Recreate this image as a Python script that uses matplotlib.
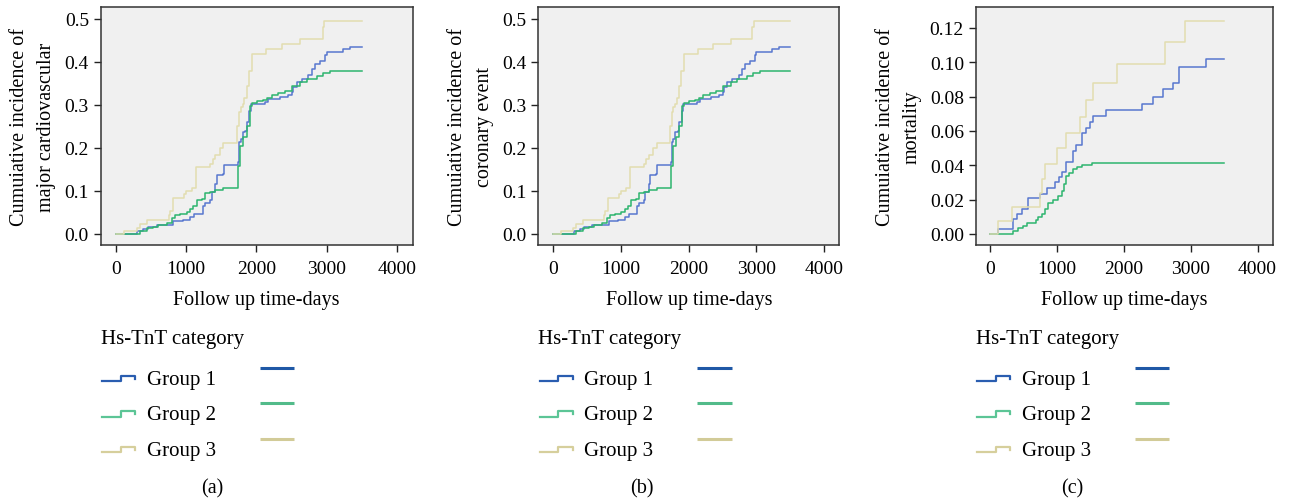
import matplotlib
matplotlib.use("Agg")
import matplotlib.pyplot as plt
from matplotlib.lines import Line2D
from matplotlib.legend_handler import HandlerBase
import numpy as np

plt.rcParams['font.family'] = ['Liberation Serif', 'DejaVu Serif']
plt.rcParams['font.size'] = 14

# --- data (days, cumulative incidence) ---
# panel (a) major cardiovascular event
a_g1_t = [0, 308, 393, 464, 583, 820, 962, 1057, 1118, 1246, 1270, 1341, 1365, 1412, 1436, 1521, 1540,
          1744, 1758, 1777, 1806, 1843, 1862, 1900, 1919, 2123, 2170, 2336, 2455, 2502, 2526, 2573,
          2645, 2739, 2787, 2834, 2905, 2976, 3000, 3237, 3332, 3498]
a_g1_y = [0, 0.006, 0.012, 0.016, 0.022, 0.030, 0.033, 0.039, 0.047, 0.064, 0.072, 0.078, 0.098, 0.116,
          0.136, 0.140, 0.160, 0.167, 0.213, 0.221, 0.238, 0.240, 0.260, 0.287, 0.302, 0.306, 0.314,
          0.318, 0.323, 0.330, 0.341, 0.353, 0.360, 0.370, 0.384, 0.395, 0.403, 0.416, 0.424, 0.430,
          0.434, 0.434]
a_g2_t = [0, 346, 440, 535, 607, 725, 796, 844, 915, 1009, 1057, 1104, 1152, 1223, 1270, 1341, 1412,
          1530, 1744, 1768, 1815, 1862, 1910, 1934, 2005, 2100, 2147, 2218, 2313, 2408, 2502, 2621,
          2716, 2858, 2953, 3047, 3190, 3498]
a_g2_y = [0, 0.006, 0.013, 0.017, 0.021, 0.026, 0.036, 0.043, 0.047, 0.050, 0.057, 0.064, 0.079, 0.081,
          0.095, 0.098, 0.102, 0.106, 0.159, 0.205, 0.225, 0.252, 0.298, 0.304, 0.310, 0.312, 0.316,
          0.322, 0.328, 0.333, 0.343, 0.353, 0.360, 0.367, 0.374, 0.378, 0.380, 0.380]
a_g3_t = [0, 123, 300, 346, 440, 750, 770, 810, 970, 1000, 1080, 1142, 1340, 1380, 1412, 1483, 1530,
          1730, 1758, 1777, 1806, 1825, 1862, 1891, 1934, 2137, 2360, 2620, 2943, 2962, 3498]
a_g3_y = [0, 0.006, 0.013, 0.023, 0.033, 0.043, 0.054, 0.083, 0.093, 0.100, 0.108, 0.155, 0.163, 0.174,
          0.184, 0.200, 0.212, 0.252, 0.283, 0.295, 0.302, 0.315, 0.345, 0.380, 0.419, 0.430, 0.442,
          0.453, 0.480, 0.494, 0.494]

# panel (b) coronary event (curves are practically the same as (a))
b_g1_t, b_g1_y = a_g1_t, a_g1_y
b_g2_t = a_g2_t
b_g2_y = a_g2_y[:-2] + [0.378, 0.378]
b_g3_t, b_g3_y = a_g3_t, a_g3_y

# panel (c) mortality
c_g1_t = [0, 124, 348, 398, 472, 572, 746, 845, 970, 1034, 1069, 1133, 1243, 1282, 1367, 1431, 1491,
          1531, 1740, 2276, 2435, 2584, 2734, 2823, 3221, 3494]
c_g1_y = [0, 0.003, 0.0087, 0.0117, 0.0146, 0.021, 0.023, 0.0266, 0.030, 0.033, 0.036, 0.042, 0.0485,
          0.052, 0.059, 0.062, 0.065, 0.0685, 0.072, 0.0757, 0.0796, 0.0845, 0.088, 0.097, 0.1016, 0.1016]
c_g2_t = [0, 348, 423, 497, 547, 686, 721, 770, 820, 870, 944, 1019, 1069, 1103, 1133, 1183, 1243,
          1292, 1367, 1516, 3494]
c_g2_y = [0, 0.002, 0.0033, 0.0049, 0.0064, 0.0083, 0.0097, 0.0117, 0.0146, 0.018, 0.020, 0.022, 0.025,
          0.029, 0.034, 0.0355, 0.038, 0.039, 0.0404, 0.0414, 0.0414]
c_g3_t = [0, 124, 323, 746, 770, 820, 1004, 1133, 1342, 1431, 1531, 1904, 2610, 2908, 3494]
c_g3_y = [0, 0.0078, 0.016, 0.024, 0.032, 0.041, 0.050, 0.059, 0.068, 0.078, 0.088, 0.099, 0.112,
          0.124, 0.124]

groups = ['Group 1', 'Group 2', 'Group 3']
line_colors = ['#5877cf', '#2db46e', '#e2ddb0']
icon_colors = ['#2a5db0', '#5cc596', '#d6cf9c']
bar_colors = ['#1f58a6', '#52bb8a', '#d2cb98']

panels = [
    ("Cumuiative incidence of\nmajor cardiovascular", "(a)",
     [(a_g1_t, a_g1_y), (a_g2_t, a_g2_y), (a_g3_t, a_g3_y)], np.arange(0, 0.51, 0.1), '%.1f', (-0.0256, 0.527)),
    ("Cumuiative incidence of\ncoronary event", "(b)",
     [(b_g1_t, b_g1_y), (b_g2_t, b_g2_y), (b_g3_t, b_g3_y)], np.arange(0, 0.51, 0.1), '%.1f', (-0.0256, 0.527)),
    ("Cumuiative incidence of\nmortality", "(c)",
     [(c_g1_t, c_g1_y), (c_g2_t, c_g2_y), (c_g3_t, c_g3_y)], np.arange(0, 0.121, 0.02), '%.2f', (-0.0064, 0.132)),
]


class StepHandler(HandlerBase):
    # legend glyph drawn as a little step, like the SPSS output
    def create_artists(self, legend, orig, xd, yd, w, h, fs, trans):
        x = np.array([0, 0.55, 0.55, 0.97, 0.97]) * w - xd
        y = np.array([0.2, 0.2, 0.55, 0.55, 0.35]) * h - yd
        ln = Line2D(x, y, color=orig.get_color(), lw=1.6, transform=trans)
        return [ln]


class RaisedHandler(HandlerBase):
    def create_artists(self, legend, orig, xd, yd, w, h, fs, trans):
        ln = Line2D([-xd, w - xd], [h * 1.1 - yd] * 2, color=orig.get_color(), lw=2.2,
                    solid_capstyle='butt', transform=trans)
        return [ln]


fig = plt.figure(figsize=(12.91, 5.02), dpi=100)
lefts = [0.078, 0.417, 0.7558]
widths = [0.2417, 0.2332, 0.230]
caption_x = [212, 642, 1072]

for i, (ylab, cap, curves, yt, fmt, ylim) in enumerate(panels):
    ax = fig.add_axes([lefts[i], 0.510, widths[i], 0.4735])
    ax.set_facecolor('#f0f0f0')
    for (t, y), c in zip(curves, line_colors):
        ax.plot(t, y, drawstyle='steps-post', color=c, lw=1.1)
    ax.set_xlim(-215, 4225)
    ax.set_ylim(*ylim)
    ax.set_xticks([0, 1000, 2000, 3000, 4000])
    ax.set_yticks(yt)
    ax.set_yticklabels([fmt % v for v in yt])
    ax.tick_params(direction='out', length=5, width=1, labelsize=14, color='#222222')
    ax.tick_params(axis='x', pad=6)
    for s in ax.spines.values():
        s.set_color('#333333')
        s.set_linewidth(1.1)
    ax.set_xlabel('Follow up time-days', fontsize=14.5, labelpad=9)
    ax.set_ylabel(ylab, fontsize=14.5, labelpad=6, linespacing=1.55)

    icons = [Line2D([], [], color=c) for c in icon_colors]
    bars = [Line2D([], [], color=c) for c in bar_colors]
    hmap = {h: StepHandler() for h in icons}
    hmap.update({h: RaisedHandler() for h in bars})
    ax.legend(icons + bars, groups + ['', '', ''], ncol=2,
              loc='upper left', bbox_to_anchor=(0.004, -0.522), frameon=False,
              fontsize=15, handlelength=1.65, handletextpad=0.5, columnspacing=2.1,
              labelspacing=0.78, borderpad=0, borderaxespad=0, handler_map=hmap)
    fig.text(lefts[i], 1 - 340 / 502, 'Hs-TnT category', ha='left', va='center', fontsize=15)
    fig.text(caption_x[i] / 1291, 1 - 489 / 502, cap, ha='center', va='center', fontsize=14.5)

fig.savefig('out.png', dpi=100)
